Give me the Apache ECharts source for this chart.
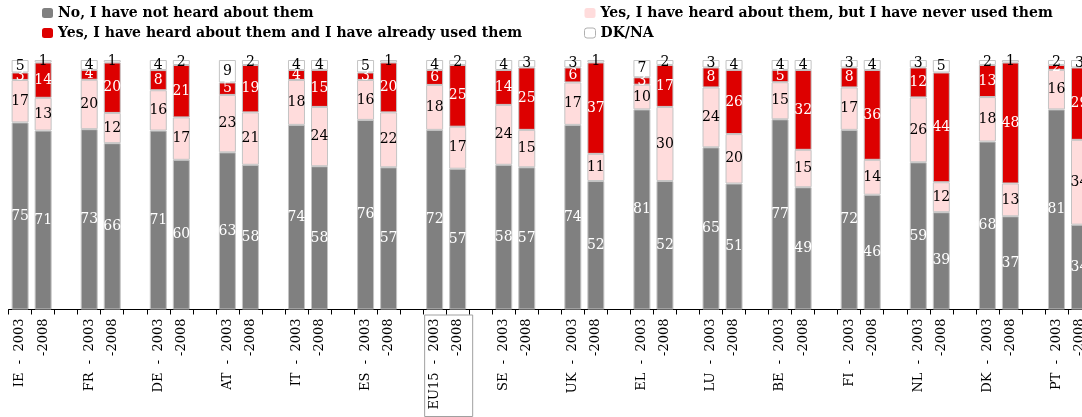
<!DOCTYPE html>
<html><head><meta charset="utf-8">
<script src="https://cdn.jsdelivr.net/npm/echarts@6/dist/echarts.min.js"></script>
<style>html,body{margin:0;padding:0;background:#fff;overflow:hidden}#c{width:1130px;height:417px}</style>
</head><body><div id="c"></div>
<script>
const countries = ['IE','FR','DE','AT','IT','ES','EU15','SE','UK','EL','LU','BE','FI','NL','DK','PT'];
const notHeard2003   = [75,73,71,63,74,76,72,58,74,81,65,77,72,59,68,81];
const notHeard2008   = [71,66,60,58,58,57,57,57,52,52,51,49,46,39,37,34];
const neverUsed2003  = [17,20,16,23,18,16,18,24,17,10,24,15,17,26,18,16];
const neverUsed2008  = [13,12,17,21,24,22,17,15,11,30,20,15,14,12,13,34];
const used2003       = [3,4,8,5,4,3,6,14,6,3,8,5,8,12,13,2];
const used2008       = [14,20,21,19,15,20,25,25,37,17,26,32,36,44,48,29];
const dkna2003       = [5,4,4,9,4,5,4,4,3,7,3,4,3,3,2,2];
const dkna2008       = [1,1,2,2,4,1,2,3,1,2,4,4,4,5,1,3];
const seriesNames = [
  'No, I have not heard about them',
  'Yes, I have heard about them, but I have never used them',
  'Yes, I have heard about them and I have already used them',
  'DK/NA'
];
const FONT = 'DejaVu Serif';
const colors = ['#808080','#ffdcdc','#dd0000','#ffffff'];
const labelColors = ['#ffffff','#000000','#ffffff','#000000'];

const categories = [];
const raw = [[],[],[],[]];
const src2003 = [notHeard2003, neverUsed2003, used2003, dkna2003];
const src2008 = [notHeard2008, neverUsed2008, used2008, dkna2008];
countries.forEach((c,i)=>{
  categories.push(c + '  -  2003', '-2008', '');
  for (let s=0;s<4;s++){ raw[s].push(src2003[s][i], src2008[s][i], null); }
});
const totals = categories.map((_,j)=> raw.reduce((a,r)=>a+(r[j]||0),0));

const series = raw.map((arr,s)=>({
  name: seriesNames[s],
  type: 'bar',
  stack: 'total',
  barWidth: 17,
  data: arr.map((v,j)=> v==null ? '-' : v/totals[j]*100),
  itemStyle: {color: colors[s], borderColor: '#c4c4c4', borderWidth: 1},
  label: {
    show: true, position: 'inside', color: labelColors[s],
    fontFamily: FONT, fontSize: 14,
    formatter: p => raw[s][p.dataIndex]
  },
  emphasis: {disabled: true},
  animation: false
}));

const chart = echarts.init(document.getElementById('c'));
const legendText = {fontFamily: FONT, fontSize: 14, fontWeight: 'bold', color: '#000'};
chart.setOption({
  animation: false,
  grid: {left: 8.6, top: 60, width: 48*23.03, height: 249.5, containLabel: false},
  legend: [
    {orient:'vertical', left: 42, top: 6, padding: 0, itemGap: 6, itemWidth: 11, itemHeight: 10,
     textStyle: legendText, selectedMode: false,
     itemStyle: {borderWidth: 0},
     data: [seriesNames[0], seriesNames[2]]},
    {orient:'vertical', left: 584, top: 6, padding: 0, itemGap: 6, itemWidth: 11, itemHeight: 10,
     textStyle: legendText, selectedMode: false,
     itemStyle: {borderWidth: 0},
     data: [seriesNames[1], {name: seriesNames[3], itemStyle: {borderWidth: 1, borderColor: '#b0b0b0'}}]}
  ],
  xAxis: {
    type: 'category', data: categories,
    axisLine: {lineStyle: {color: '#000', width: 1}},
    axisTick: {show: true, interval: 0, length: 5, lineStyle: {color: '#000'}},
    axisLabel: {interval: 0, rotate: 90, margin: 9, color: '#000', fontFamily: FONT, fontSize: 13}
  },
  yAxis: {type: 'value', min: 0, max: 100, show: false},
  series: series
});

const eu = countries.indexOf('EU15')*3;
const x1 = chart.convertToPixel({xAxisIndex:0}, eu);
const x2 = chart.convertToPixel({xAxisIndex:0}, eu+1);
const y0 = chart.convertToPixel({yAxisIndex:0}, 0);
chart.setOption({graphic: [{
  type: 'rect', silent: true,
  shape: {x: x1 - 10, y: y0 + 5.5, width: (x2 - x1) + 25, height: 417 - y0 - 6},
  style: {fill: 'none', stroke: '#a0a0a0', lineWidth: 1}
}]});
</script>
</body></html>
